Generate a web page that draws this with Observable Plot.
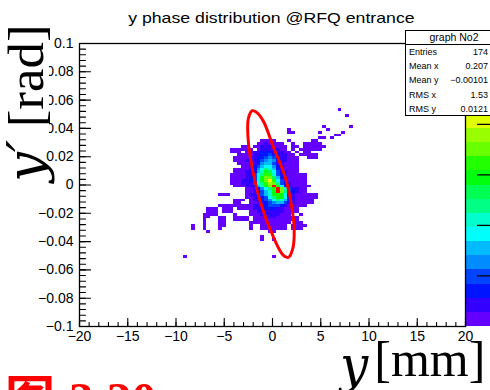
<!DOCTYPE html>
<html><head><meta charset="utf-8">
<script src="https://cdn.jsdelivr.net/npm/d3@7"></script>
<script src="https://cdn.jsdelivr.net/npm/@observablehq/plot@0.6"></script>
<style>
html,body{margin:0;padding:0;background:#fff;overflow:hidden;}
#wrap{position:relative;width:490px;height:390px;overflow:hidden;font-family:"Liberation Sans",Arial,sans-serif;}
#chart{position:absolute;left:0;top:0;}
#title{position:absolute;left:0;width:542px;top:10px;text-align:center;font-size:14.5px;line-height:16px;white-space:nowrap;}
#title span{display:inline-block;transform:scaleX(1.22);}
#stats{position:absolute;left:405px;top:30px;width:110px;height:86px;border:1px solid #000;background:#fff;box-sizing:border-box;}
#stats .st{position:absolute;left:0;top:0;width:96px;height:13px;border-bottom:1px solid #000;text-align:center;font-size:10.5px;line-height:13px;}
#stats .row{position:absolute;left:3px;font-size:9px;line-height:11px;white-space:nowrap;}
#stats .val{position:absolute;right:26px;font-size:9px;line-height:11px;white-space:nowrap;text-align:right;}
.big{position:absolute;font-family:"Liberation Serif","DejaVu Serif",serif;white-space:nowrap;font-size:50px;}
.big span{display:inline-block;}
.it{font-family:"DejaVu Serif",serif;font-style:italic;}
.wb{background:#fff;}
#ylab{line-height:46px;transform-origin:0 0;transform:rotate(-90deg) scaleX(1.06);}
#xlab{line-height:36px;}
#xlab .it{position:relative;top:6px;}
#cap{position:absolute;left:5px;top:370px;color:#ff0000;font-weight:bold;font-size:50px;line-height:60px;white-space:nowrap;font-family:"Liberation Serif","Noto Sans CJK SC",serif;}
#cap span{display:inline-block;margin-right:14px;}
</style></head>
<body>
<div id="wrap">
  <div id="chart"></div>
  <div id="title"><span></span></div>
  <div id="stats"></div>
  <div id="ylab" class="big"></div>
  <div id="xlab" class="big"></div>
  <div id="cap"></div>
</div>
<script>
// ---------- data ----------
const titleText = "y phase distribution @RFQ entrance";
const xTickValues = [-20, -15, -10, -5, 0, 5, 10, 15, 20];
const xTickLabels = ["\u221220", "\u221215", "\u221210", "\u22125", "0", "5", "10", "15", "20"];
const yTickValues = [-0.1, -0.08, -0.06, -0.04, -0.02, 0, 0.02, 0.04, 0.06, 0.08, 0.1];
const yTickLabels = ["\u22120.1", "\u22120.08", "\u22120.06", "\u22120.04", "\u22120.02", "0", "0.02", "0.04", "0.06", "0.08", "0.1"];
const xDomain = [-20, 20];
const yDomain = [-0.1, 0.1];
const binX = 0.4;     // 100 bins over [-20, 20] mm
const binY = 0.002;   // 100 bins over [-0.1, 0.1] rad
const zMax = 56;
const zTicks = [10, 20, 30, 40];
const statTitle = "graph No2";
const statLabels = ["Entries", "Mean x", "Mean y", "RMS x", "RMS y"];
const statValues = ["174", "0.207", "\u22120.00101", "1.53", "0.0121"];
const yLabelParts = ["y\u2032", "[rad]"];
const xLabelParts = ["y", "[mm]"];
const captionParts = ["\u56fe", "3.20"];

// histogram segments: [y bin, first x bin, counts...]
const histRows = [
  [76, 67, [1]],
  [74, 69, [1]],
  [70, 63, [1]], [70, 70, [1]],
  [69, 54, [1]], [69, 64, [1]],
  [68, 54, [1, 1]], [68, 62, [1]], [68, 68, [1]],
  [67, 66, [1, 1]],
  [66, 62, [1, 1, 0, 1]],
  [65, 47, [1, 2, 1, 1]], [65, 54, [1]], [65, 60, [1, 1]],
  [64, 46, [1, 2, 3, 2, 2, 1, 1]], [64, 55, [1]], [64, 58, [1, 1, 1, 1, 1]],
  [63, 42, [1, 1]], [63, 45, [1, 2, 3, 4, 3, 2, 2, 1, 1]], [63, 55, [1, 1]], [63, 58, [1, 2, 1, 1, 1, 1]],
  [62, 39, [1, 1, 1, 1, 1, 1, 0, 2, 3, 4, 5, 4, 3, 2, 1]], [62, 55, [1, 0, 1, 1, 1, 1, 1, 1]],
  [61, 39, [1, 1, 1, 0, 2, 2, 3, 4, 6, 7, 6, 5, 4, 3, 2, 1, 0, 1, 0, 1, 1]],
  [60, 41, [1, 1, 1, 2, 3, 4, 6, 8, 9, 8, 7, 5, 3, 2, 1, 0, 1, 1, 1, 1, 1]],
  [59, 40, [1, 1, 2, 2, 3, 4, 6, 8, 10, 12, 11, 8, 5, 3, 2, 1, 1, 0, 0, 1, 1, 1]],
  [58, 40, [1, 1, 2, 3, 3, 5, 7, 10, 12, 14, 12, 8, 5, 3, 2, 1, 1]],
  [57, 41, [1, 1, 2, 3, 5, 8, 12, 15, 14, 9, 5, 3, 2, 1, 1, 1]],
  [56, 42, [1, 2, 4, 6, 10, 16, 19, 17, 12, 6, 4, 2, 1, 1, 1]],
  [55, 40, [1, 1, 1, 2, 4, 7, 12, 19, 23, 21, 15, 8, 4, 2, 1, 1, 1]],
  [54, 40, [1, 1, 2, 3, 5, 8, 14, 20, 29, 26, 17, 9, 5, 3, 2, 1, 1]],
  [53, 39, [1, 1, 1, 2, 3, 5, 9, 17, 25, 32, 31, 21, 11, 6, 3, 2, 1, 1, 1, 1]],
  [52, 39, [1, 1, 2, 2, 4, 6, 10, 18, 30, 35, 36, 27, 14, 7, 4, 2, 1, 1, 1, 1]],
  [51, 39, [1, 2, 2, 3, 4, 6, 10, 19, 29, 34, 43, 32, 18, 9, 5, 2, 1, 1, 1, 1]],
  [50, 39, [1, 1, 2, 3, 3, 5, 9, 17, 25, 32, 38, 36, 23, 11, 6, 3, 2, 1, 1, 1]],
  [49, 40, [1, 2, 2, 3, 5, 8, 14, 21, 30, 35, 55, 33, 19, 8, 4, 2, 1, 1, 1, 1]],
  [48, 43, [1, 2, 4, 7, 12, 18, 24, 33, 56, 35, 22, 10, 5, 3, 2, 1]],
  [47, 43, [1, 2, 3, 6, 9, 14, 20, 29, 54, 34, 23, 11, 6, 3, 2, 1]],
  [46, 36, [1, 1, 1]], [46, 43, [1, 3, 5, 7, 10, 15, 21, 29, 31, 30, 17, 7, 4, 2, 1, 1, 1, 1, 1]],
  [45, 43, [1, 2, 4, 6, 8, 11, 17, 23, 30, 29, 18, 8, 4, 2, 1, 1, 1, 1, 1]],
  [44, 40, [1, 1, 1, 0, 1, 3, 4, 6, 9, 13, 19, 23, 22, 14, 7, 4, 2, 1, 1, 1, 1]],
  [43, 40, [1, 1, 0, 0, 1, 2, 3, 5, 7, 10, 13, 15, 14, 9, 5, 3, 2, 1, 1, 1, 1]],
  [42, 36, [1, 1, 1, 1, 1, 1, 1, 1, 2, 3, 4, 5, 7, 9, 10, 9, 6, 4, 2, 1, 1, 1, 1]],
  [41, 33, [1, 1, 1, 0, 1, 1, 1, 0, 1, 1, 1, 2, 3, 4, 5, 6, 7, 6, 5, 3, 2, 1, 1, 1]],
  [40, 33, [1, 1, 1, 0, 1, 1, 1, 0, 0, 0, 0, 1, 2, 3, 3, 4, 5, 5, 4, 3, 2, 2, 1, 1]],
  [39, 32, [1, 1, 1, 1]], [39, 40, [1]], [39, 44, [1, 2, 2, 3, 3, 4, 3, 3, 2, 1, 1]], [39, 57, [1]],
  [38, 32, [1, 1]], [38, 36, [1, 1]], [38, 40, [1, 1, 1, 1, 0, 1, 2, 2, 3, 3, 3, 2, 2, 1, 1, 1, 1]],
  [37, 32, [1]], [37, 36, [1, 1]], [37, 40, [1, 1, 1, 1, 0, 1, 1, 2, 2, 2, 2, 2, 1, 1, 1, 1, 1]],
  [36, 32, [1]], [36, 36, [1, 1]], [36, 44, [1, 1, 1, 2, 2, 2, 1, 1, 1, 1, 1]], [36, 56, [1, 1]],
  [35, 29, [1]], [35, 32, [1]], [35, 36, [1, 1]], [35, 44, [1, 0, 0, 1, 1, 1, 1, 1, 1, 1, 0, 1, 1, 1, 1]],
  [34, 29, [1]], [34, 32, [1]], [34, 36, [1]], [34, 44, [1]], [34, 47, [1, 1, 1, 1, 1, 1, 1, 0, 1, 1, 1]],
  [33, 33, [1]], [33, 49, [1, 1]],
  [31, 47, [1]],
  [30, 47, [1]], [30, 50, [1]],
  [24, 27, [1]], [24, 50, [1]]
];

// red emittance ellipse
const ellipseX = [-2.1, -1.5, -0.9, 0.1, 1.3, 2.0, 2.25, 2.1, 1.65, 1.1, 0.1, -1.3, -2.3, -2.55, -2.5];
const ellipseY = [0.0525, 0.0505, 0.0445, 0.0267, 0.006, -0.0157, -0.032, -0.045, -0.0512, -0.0495, -0.0369, -0.011, 0.0197, 0.035, 0.047];

// ---------- build ----------
const cells = histRows.flatMap(([iy, ix0, counts]) =>
  counts.map((z, k) => ({ix: ix0 + k, iy, z})).filter(c => c.z > 0));
const ellipse = ellipseX.map((x, i) => ({x, y: ellipseY[i]}));

// ROOT "pretty" palette (violet -> red), 20 contour levels
const nLevels = 20;
const thresholds = d3.range(1, nLevels).map(k => k * zMax / nLevels);
const palette = d3.range(nLevels).map(k => {
  const i = Math.min(49, Math.floor((k + 0.99) * 50 / nLevels));
  return d3.hsl(280 - (i + 1) * 5.6, 1, 0.5).formatHex();
});
const zToY = d3.scaleLinear([0, zMax], yDomain);
const bands = d3.range(nLevels).map(k => ({z0: k * zMax / nLevels, z1: (k + 1) * zMax / nLevels}));

const tickShape = {draw(context, l) { context.moveTo(0, 0); context.lineTo(0, -l); }};
const xMinor = d3.range(xDomain[0], xDomain[1] + 0.5, 1);
const yMinor = d3.range(0, 51).map(i => yDomain[0] + i * 0.004);

const plot = Plot.plot({
  width: 490, height: 390,
  marginLeft: 79, marginRight: 25, marginTop: 43, marginBottom: 64,
  style: {fontFamily: "'Liberation Sans', Arial, sans-serif", fontSize: "14px", background: "transparent", overflow: "visible"},
  x: {domain: xDomain, axis: null},
  y: {domain: yDomain, axis: null},
  color: {type: "threshold", domain: thresholds, range: palette},
  marks: [
    Plot.rect(cells, {
      x1: c => xDomain[0] + c.ix * binX, x2: c => xDomain[0] + (c.ix + 1) * binX,
      y1: c => yDomain[0] + c.iy * binY, y2: c => yDomain[0] + (c.iy + 1) * binY,
      fill: "z", shapeRendering: "crispEdges"
    }),
    Plot.rect(bands, {
      x1: xDomain[1], x2: xDomain[1] + 3,
      y1: b => zToY(b.z0), y2: b => zToY(b.z1),
      fill: b => (b.z0 + b.z1) / 2, shapeRendering: "crispEdges"
    }),
    Plot.vector(zTicks, {y: z => zToY(z), frameAnchor: "right", dx: 24, rotate: -90, length: 12, anchor: "start", shape: tickShape, stroke: "black", strokeWidth: 1.2}),
    Plot.line(ellipse, {x: "x", y: "y", curve: "catmull-rom-closed", stroke: "#ff0000", strokeWidth: 3}),
    Plot.frame({stroke: "black", strokeWidth: 1.3}),
    Plot.vector(xMinor, {x: d => d, frameAnchor: "bottom", length: 4, rotate: 0, anchor: "start", shape: tickShape, stroke: "black", strokeWidth: 1.1}),
    Plot.vector(xTickValues, {x: d => d, frameAnchor: "bottom", length: 8, rotate: 0, anchor: "start", shape: tickShape, stroke: "black", strokeWidth: 1.1}),
    Plot.vector(yMinor, {y: d => d, frameAnchor: "left", length: 6, rotate: 90, anchor: "start", shape: tickShape, stroke: "black", strokeWidth: 1.1}),
    Plot.vector(yTickValues, {y: d => d, frameAnchor: "left", length: 11, rotate: 90, anchor: "start", shape: tickShape, stroke: "black", strokeWidth: 1.1}),
    Plot.axisX(xTickValues, {tickSize: 0, tickPadding: 5, tickFormat: d => xTickLabels[xTickValues.indexOf(d)], label: null, fontSize: 14}),
    Plot.axisY(yTickValues, {tickSize: 0, tickPadding: 6, tickFormat: d => yTickLabels[yTickValues.indexOf(d)], label: null, fontSize: 14})
  ]
});
document.getElementById("chart").appendChild(plot);

// ---------- overlays ----------
document.querySelector("#title span").textContent = titleText;
const stats = document.getElementById("stats");
const st = document.createElement("div"); st.className = "st"; st.textContent = statTitle; stats.appendChild(st);
statLabels.forEach((lab, i) => {
  const r = document.createElement("div"); r.className = "row"; r.style.top = (16 + i * 14.2) + "px"; r.textContent = lab; stats.appendChild(r);
  const v = document.createElement("div"); v.className = "val"; v.style.top = (16 + i * 14.2) + "px"; v.textContent = statValues[i]; stats.appendChild(v);
});
const ylab = document.getElementById("ylab");
ylab.innerHTML = `<span class="it">${yLabelParts[0]}</span><span class="wb" style="padding-left:12px">${yLabelParts[1]}</span>`;
ylab.style.left = "3px"; ylab.style.top = "182px";
const xlab = document.getElementById("xlab");
xlab.innerHTML = `<span class="it">${xLabelParts[0]}</span><span class="wb" style="padding-left:6px">${xLabelParts[1]}</span>`;
xlab.style.left = "340px"; xlab.style.top = "341px";
document.getElementById("cap").innerHTML = `<span>${captionParts[0]}</span>${captionParts[1]}`;
</script>
</body></html>
